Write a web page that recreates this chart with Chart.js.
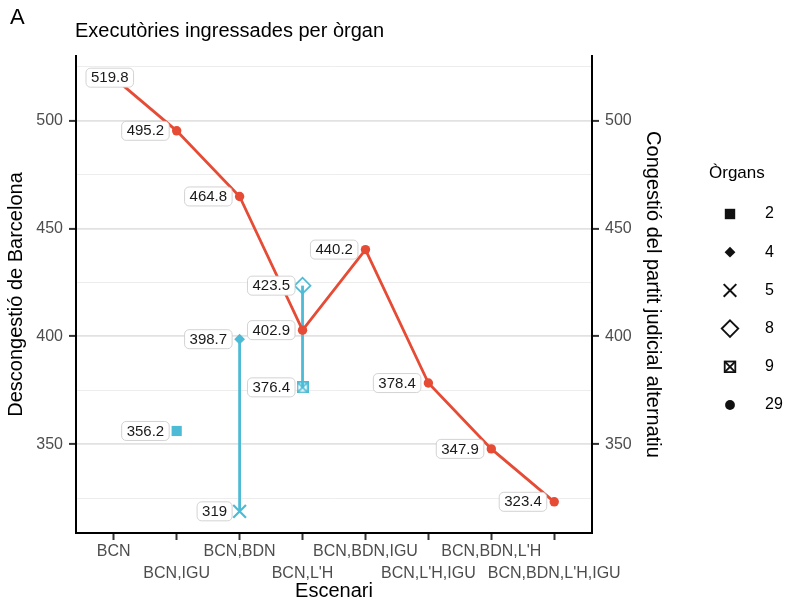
<!DOCTYPE html>
<html>
<head>
<meta charset="utf-8">
<script src="https://cdn.jsdelivr.net/npm/chart.js@4/dist/chart.umd.min.js"></script>
<style>
html,body{margin:0;padding:0;background:#fff;}
#wrap{width:787px;height:604px;position:relative;}
</style>
</head>
<body>
<div id="wrap"><canvas id="c" width="787" height="604"></canvas></div>
<script>
// ---- data ----
const categories = ['BCN', 'BCN,IGU', 'BCN,BDN', "BCN,L'H", 'BCN,BDN,IGU', "BCN,L'H,IGU", "BCN,BDN,L'H", "BCN,BDN,L'H,IGU"];
const lineValues = [519.8, 495.2, 464.8, 402.9, 440.2, 378.4, 347.9, 323.4];   // 29 òrgans
const lineOrgans = 29;
const altCategories = ['BCN,IGU', 'BCN,BDN', 'BCN,BDN', "BCN,L'H", "BCN,L'H"];
const altValues = [356.2, 398.7, 319, 423.5, 376.4];
const altOrgans = [2, 4, 5, 8, 9];
const yMajorTicks = [350, 400, 450, 500];
const yMinorTicks = [325, 375, 425, 475, 525];
const legendOrgans = [2, 4, 5, 8, 9, 29];
const yLimits = [308.96, 529.84];

// ---- style ----
const FONT = '"Liberation Sans", Arial, Helvetica, sans-serif';
const RED = '#E64B35';
const CYAN = '#4DBBD5';
Chart.defaults.font.family = FONT;

function makeSquareCross(color, size, lw) {
  const cv = document.createElement('canvas');
  cv.width = size; cv.height = size;
  const g = cv.getContext('2d');
  g.strokeStyle = color; g.lineWidth = lw;
  const o = lw / 2;
  g.strokeRect(o, o, size - lw, size - lw);
  g.beginPath();
  g.moveTo(o, o); g.lineTo(size - o, size - o);
  g.moveTo(size - o, o); g.lineTo(o, size - o);
  g.stroke();
  return cv;
}
const squareCrossCyan = makeSquareCross(CYAN, 12, 1.7);

const pointStyles = {
  2:  {ps: 'rect',    r: 7.2, bg: CYAN, bw: 0},
  4:  {ps: 'rectRot', r: 5.4, bg: CYAN, bw: 0},
  5:  {ps: 'crossRot',r: 9,   bg: CYAN, bw: 2.2},
  8:  {ps: 'rectRot', r: 8,   bg: 'rgba(255,255,255,0)', bw: 1.7},
  9:  {ps: squareCrossCyan, r: 6, bg: CYAN, bw: 0},
  29: {ps: 'circle',  r: 4.7, bg: RED, bw: 0}
};

const catIndex = c => categories.indexOf(c);
const lineData = lineValues.map((v, i) => ({x: i, y: v}));
const altData = altValues.map((v, i) => ({x: catIndex(altCategories[i]), y: v}));

// vertical segments between values sharing a category
const segDatasets = [];
categories.forEach((c, ci) => {
  const vals = altValues.filter((v, i) => altCategories[i] === c);
  if (vals.length > 1) {
    segDatasets.push({
      type: 'line',
      data: [{x: ci, y: Math.min(...vals)}, {x: ci, y: Math.max(...vals)}],
      borderColor: CYAN, borderWidth: 2.8, pointRadius: 0, fill: false
    });
  }
});

const isMajor = ctx => ctx.tick && yMajorTicks.includes(ctx.tick.value);

// ---- plugins ----
function roundRect(ctx, x, y, w, h, r) {
  ctx.beginPath();
  ctx.moveTo(x + r, y);
  ctx.lineTo(x + w - r, y);
  ctx.arcTo(x + w, y, x + w, y + r, r);
  ctx.lineTo(x + w, y + h - r);
  ctx.arcTo(x + w, y + h, x + w - r, y + h, r);
  ctx.lineTo(x + r, y + h);
  ctx.arcTo(x, y + h, x, y + h - r, r);
  ctx.lineTo(x, y + r);
  ctx.arcTo(x, y, x + r, y, r);
  ctx.closePath();
}

const valueLabels = {
  id: 'valueLabels',
  afterDatasetsDraw(chart) {
    const ctx = chart.ctx, xs = chart.scales.x, ys = chart.scales.y, area = chart.chartArea;
    const items = lineData.concat(altData);
    ctx.save();
    ctx.font = '15px ' + FONT;
    ctx.textBaseline = 'middle';
    ctx.textAlign = 'center';
    items.forEach(it => {
      const px = xs.getPixelForValue(it.x), py = ys.getPixelForValue(it.y);
      const txt = String(it.y);
      const w = ctx.measureText(txt).width + 10, h = 19;
      let left = px - 7.5 - w;
      if (left < area.left + 10) left = area.left + 10;
      roundRect(ctx, left, py - h / 2, w, h, 4.5);
      ctx.fillStyle = '#fff';
      ctx.fill();
      ctx.lineWidth = 0.8;
      ctx.strokeStyle = '#c8c8c8';
      ctx.stroke();
      ctx.fillStyle = '#1a1a1a';
      ctx.fillText(txt, left + w / 2, py + 0.5);
    });
    ctx.restore();
  }
};

function drawLegendSymbol(ctx, organs, x, y) {
  ctx.save();
  ctx.fillStyle = '#111'; ctx.strokeStyle = '#111';
  switch (organs) {
    case 2: ctx.fillRect(x - 5.2, y - 5.2, 10.4, 10.4); break;
    case 4:
      ctx.beginPath(); ctx.moveTo(x, y - 5.4); ctx.lineTo(x + 5.4, y); ctx.lineTo(x, y + 5.4); ctx.lineTo(x - 5.4, y); ctx.closePath(); ctx.fill(); break;
    case 5:
      ctx.lineWidth = 2; ctx.beginPath();
      ctx.moveTo(x - 6.3, y - 6.3); ctx.lineTo(x + 6.3, y + 6.3); ctx.moveTo(x + 6.3, y - 6.3); ctx.lineTo(x - 6.3, y + 6.3); ctx.stroke(); break;
    case 8:
      ctx.lineWidth = 1.9; ctx.beginPath(); ctx.moveTo(x, y - 8.2); ctx.lineTo(x + 8.2, y); ctx.lineTo(x, y + 8.2); ctx.lineTo(x - 8.2, y); ctx.closePath(); ctx.stroke(); break;
    case 9:
      ctx.lineWidth = 1.8; ctx.strokeRect(x - 5.3, y - 5.3, 10.6, 10.6);
      ctx.beginPath(); ctx.moveTo(x - 5.3, y - 5.3); ctx.lineTo(x + 5.3, y + 5.3); ctx.moveTo(x + 5.3, y - 5.3); ctx.lineTo(x - 5.3, y + 5.3); ctx.stroke(); break;
    case 29:
      ctx.beginPath(); ctx.arc(x, y, 4.9, 0, Math.PI * 2); ctx.fill(); break;
  }
  ctx.restore();
}

const decorations = {
  id: 'decorations',
  afterDraw(chart) {
    const ctx = chart.ctx;
    ctx.save();
    ctx.fillStyle = '#000';
    ctx.textBaseline = 'middle';
    ctx.textAlign = 'left';
    ctx.font = '22px ' + FONT;
    ctx.fillText('A', 10, 18);
    ctx.font = '20px ' + FONT;
    ctx.fillText('Executòries ingressades per òrgan', 75, 31);
    // legend
    ctx.font = '17px ' + FONT;
    ctx.fillText('Òrgans', 709, 173);
    ctx.font = '16px ' + FONT;
    legendOrgans.forEach((o, i) => {
      const y = 214 + i * 38.2;
      drawLegendSymbol(ctx, o, 730, y);
      ctx.fillStyle = '#000';
      ctx.fillText(String(o), 765, y);
    });
    ctx.restore();
  }
};

// ---- chart ----
const yTickValues = yMinorTicks.concat(yMajorTicks).sort((a, b) => a - b);
function yScaleBase(position, titleText, width) {
  return {
    type: 'linear', position: position,
    min: yLimits[0], max: yLimits[1],
    afterBuildTicks: s => { s.ticks = yTickValues.map(v => ({value: v})); },
    afterFit: s => { s.width = width; },
    ticks: {
      color: '#4d4d4d', font: {size: 16}, padding: 6,
      callback: v => yMajorTicks.includes(v) ? String(v) : ''
    },
    grid: {
      drawOnChartArea: position === 'left',
      color: ctx => isMajor(ctx) ? '#e2e2e2' : '#ededed',
      lineWidth: ctx => isMajor(ctx) ? 1.8 : 1,
      tickColor: ctx => isMajor(ctx) ? '#333' : 'rgba(0,0,0,0)',
      tickLength: 7, tickWidth: 2
    },
    border: {display: true, color: '#000', width: 2},
    title: {display: true, text: titleText, color: '#000', font: {size: 20}, padding: {top: 4, bottom: 0}}
  };
}

new Chart(document.getElementById('c'), {
  data: {
    datasets: [
      {
        type: 'line', label: String(lineOrgans), data: lineData,
        borderColor: RED, borderWidth: 2.8, fill: false, tension: 0,
        pointStyle: pointStyles[lineOrgans].ps, pointRadius: pointStyles[lineOrgans].r,
        pointBackgroundColor: RED, pointBorderWidth: 0, pointHoverRadius: pointStyles[lineOrgans].r
      },
      {
        type: 'scatter', label: 'alt', data: altData, showLine: false,
        pointStyle: altOrgans.map(o => pointStyles[o].ps),
        pointRadius: altOrgans.map(o => pointStyles[o].r),
        pointHoverRadius: altOrgans.map(o => pointStyles[o].r),
        pointBackgroundColor: altOrgans.map(o => pointStyles[o].bg),
        pointBorderColor: CYAN,
        pointBorderWidth: altOrgans.map(o => pointStyles[o].bw)
      },
      ...segDatasets
    ]
  },
  options: {
    responsive: false,
    animation: false,
    devicePixelRatio: 1,
    layout: {padding: {top: 56, right: 118, bottom: 0, left: 0}},
    plugins: {legend: {display: false}, tooltip: {enabled: false}, title: {display: false}},
    scales: {
      x: {
        type: 'linear', position: 'bottom',
        min: -0.6, max: categories.length - 1 + 0.6,
        afterBuildTicks: s => { s.ticks = categories.map((c, i) => ({value: i})); },
        afterFit: s => { s.height = 71; },
        ticks: {
          autoSkip: false, maxRotation: 0, minRotation: 0,
          color: '#4d4d4d', font: {size: 16, lineHeight: 1.34}, padding: 1,
          callback: (v, i) => i % 2 === 0 ? [categories[v], ''] : ['', categories[v]]
        },
        grid: {drawOnChartArea: false, drawTicks: true, tickLength: 7, tickColor: '#333', tickWidth: 2},
        border: {display: true, color: '#000', width: 2},
        title: {display: true, text: 'Escenari', color: '#000', font: {size: 20}, padding: {top: 0, bottom: 1}}
      },
      y: yScaleBase('left', 'Descongestió de Barcelona', 76),
      y2: yScaleBase('right', 'Congestió del partit judicial alternatiu', 77)
    }
  },
  plugins: [valueLabels, decorations]
});
</script>
</body>
</html>
